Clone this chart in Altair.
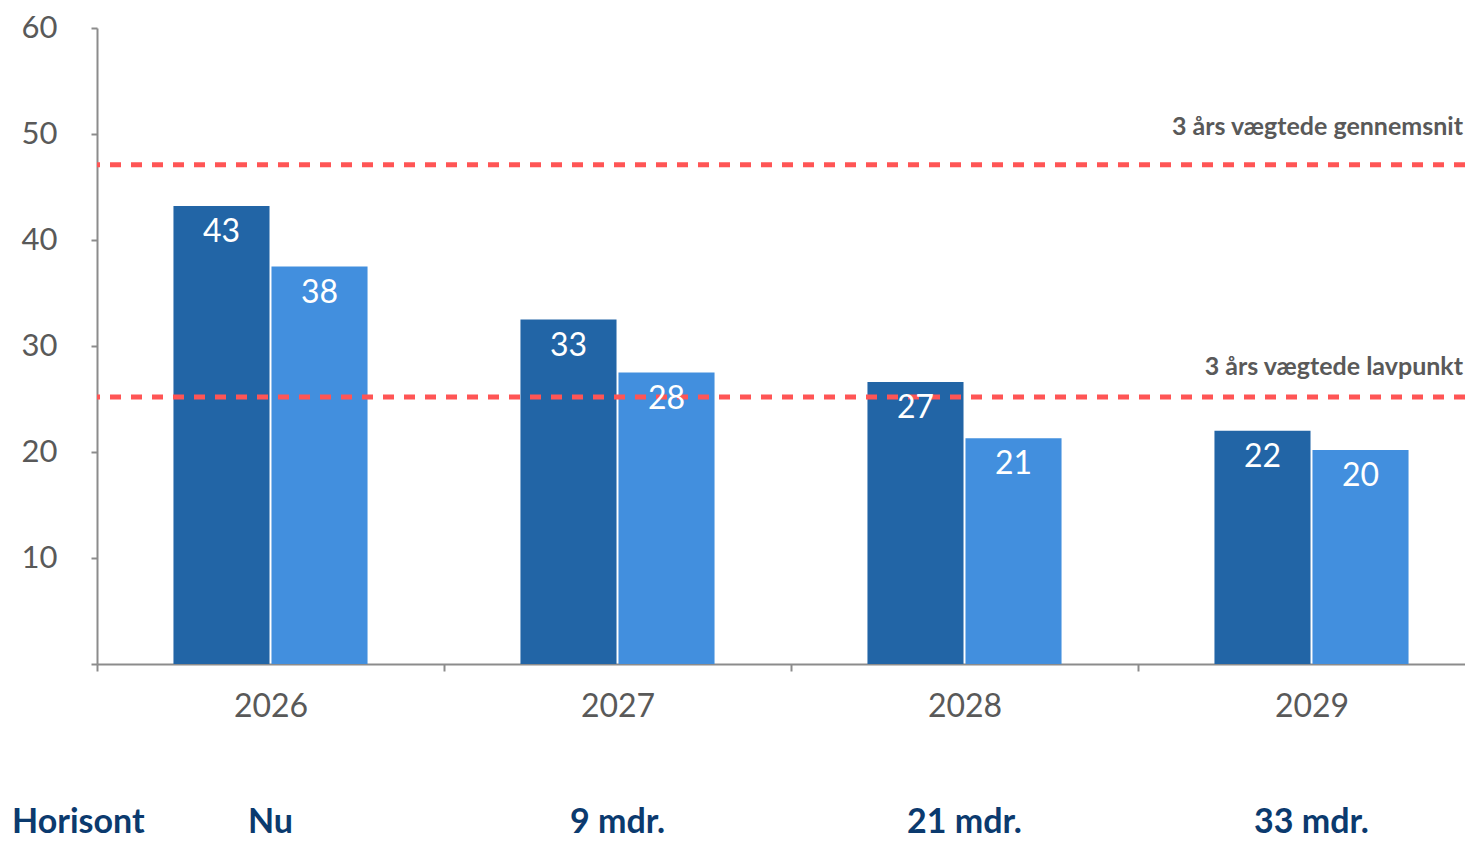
import altair as alt
import pandas as pd

years = ["2026", "2027", "2028", "2029"]
series = ["Serie 1", "Serie 2"]
values_s1 = [43.2, 32.5, 26.6, 22.0]
values_s2 = [37.5, 27.5, 21.3, 20.2]
horizon = ["Nu", "9 mdr.", "21 mdr.", "33 mdr."]
ref_upper = 47.1
ref_lower = 25.2
ref_upper_label = "3 års vægtede gennemsnit"
ref_lower_label = "3 års vægtede lavpunkt"
y_ticks = [0, 10, 20, 30, 40, 50, 60]

FONT = "Lato"
GREY_TXT = "#595959"
AXIS_GREY = "#8c8c8c"
NAVY = "#0b3a6e"
colors = ["#2265a6", "#428fde"]

rows = []
for y, a, b in zip(years, values_s1, values_s2):
    rows.append({"year": y, "series": series[0], "value": a})
    rows.append({"year": y, "series": series[1], "value": b})
df = pd.DataFrame(rows)

hdf = pd.DataFrame({"year": years, "label": horizon})

x_enc = alt.X(
    "year:N",
    sort=years,
    scale=alt.Scale(range=[0, 1388], paddingInner=0, paddingOuter=0),
    axis=alt.Axis(
        title=None, labelAngle=0, tickBand="extent", tickSize=7, tickWidth=2,
        tickColor=AXIS_GREY, domainColor=AXIS_GREY, domainWidth=2,
        labelFontSize=32, labelColor=GREY_TXT, labelFont=FONT, labelPadding=20,
        grid=False,
    ),
)
xoff = alt.XOffset("series:N", sort=series,
                   scale=alt.Scale(paddingInner=0.02, paddingOuter=0.78))
y_enc = alt.Y(
    "value:Q",
    scale=alt.Scale(domain=[0, 60], nice=False, zero=True),
    axis=alt.Axis(
        title=None, values=y_ticks, labelExpr="datum.value == 0 ? '' : datum.label",
        grid=False, tickSize=6, tickWidth=2, tickColor=AXIS_GREY,
        domainColor=AXIS_GREY, domainWidth=2, labelFontSize=31,
        labelColor=GREY_TXT, labelFont=FONT, labelPadding=34,
    ),
)

bars = alt.Chart(df).mark_bar().encode(
    x=x_enc, xOffset=xoff, y=y_enc,
    color=alt.Color("series:N", sort=series,
                    scale=alt.Scale(domain=series, range=colors), legend=None),
)

bar_labels = alt.Chart(df).mark_text(
    color="white", fontSize=32, font=FONT, baseline="alphabetic", dy=36
).encode(
    x=alt.X("year:N", sort=years), xOffset=alt.XOffset("series:N", sort=series),
    y="value:Q", text=alt.Text("value:Q", format=".0f"),
)

rule_df = pd.DataFrame({"value": [ref_upper, ref_lower]})
rules = alt.Chart(rule_df).mark_rule(
    color="#ff5555", strokeWidth=5, strokeDash=[11, 10]
).encode(y="value:Q")

up_lbl = alt.Chart(pd.DataFrame({"value": [ref_upper], "t": [ref_upper_label]})).mark_text(
    align="right", baseline="alphabetic", fontSize=25, fontWeight="bold",
    font=FONT, color=GREY_TXT, dy=-30
).encode(x=alt.value(1366), y="value:Q", text="t:N")

lo_lbl = alt.Chart(pd.DataFrame({"value": [ref_lower], "t": [ref_lower_label]})).mark_text(
    align="right", baseline="alphabetic", fontSize=25, fontWeight="bold",
    font=FONT, color=GREY_TXT, dy=-22
).encode(x=alt.value(1366), y="value:Q", text="t:N")

horizon_txt = alt.Chart(hdf).mark_text(
    align="center", baseline="alphabetic", fontSize=34, fontWeight="bold",
    font=FONT, color=NAVY
).encode(x=alt.X("year:N", sort=years), y=alt.value(805), text="label:N")

horisont = alt.Chart(pd.DataFrame({"t": ["Horisont"]})).mark_text(
    align="left", baseline="alphabetic", fontSize=34, fontWeight="bold",
    font=FONT, color=NAVY
).encode(x=alt.value(-85), y=alt.value(805), text="t:N")

chart = alt.layer(
    bars, rules, bar_labels, up_lbl, lo_lbl, horizon_txt, horisont
).properties(
    width=1368, height=636,
    background="white",
    padding={"left": 89, "top": 20, "right": 0, "bottom": 177},
    autosize=alt.AutoSizeParams(type="none"),
).configure_view(stroke=None)

chart.save("out.html", embed_options={"renderer": "svg", "actions": False})
